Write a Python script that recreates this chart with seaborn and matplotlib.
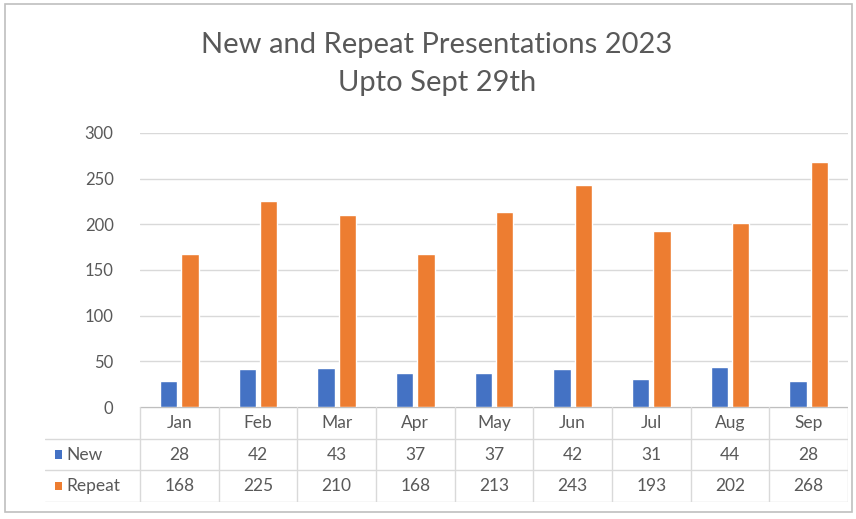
import numpy as np
import pandas as pd
import matplotlib
matplotlib.use("Agg")
import matplotlib.pyplot as plt
import seaborn as sns
from matplotlib.patches import Rectangle

# --- data ---
months = ["Jan", "Feb", "Mar", "Apr", "May", "Jun", "Jul", "Aug", "Sep"]
new_vals = [28, 42, 43, 37, 37, 42, 31, 44, 28]
repeat_vals = [168, 225, 210, 168, 213, 243, 193, 202, 268]
series_names = ["New", "Repeat"]
y_ticks = [0, 50, 100, 150, 200, 250, 300]
title_text = "New and Repeat Presentations 2023\nUpto Sept 29th"

BLUE = "#4472C4"
ORANGE = "#ED7D31"
TXT = "#595959"
GRID = "#D9D9D9"

df = pd.DataFrame({
    "month": months * 2,
    "series": ["New"] * len(months) + ["Repeat"] * len(months),
    "value": new_vals + repeat_vals,
})

sns.set_theme(style="white")
plt.rcParams["font.family"] = ["Lato", "DejaVu Sans"]

W, H = 856, 519
fig = plt.figure(figsize=(W / 100, H / 100), dpi=100)


def px_axes(x0, y0, x1, y1):
    # pixel box (top-left origin) -> figure fraction axes
    return fig.add_axes([x0 / W, 1 - y1 / H, (x1 - x0) / W, (y1 - y0) / H])


# --- bar chart ---
ax = px_axes(140, 133, 848, 407)
sns.barplot(data=df, x="month", y="value", hue="series", order=months,
            hue_order=series_names, palette=[BLUE, ORANGE],
            width=0.55, gap=0.2, ax=ax, legend=False, saturation=1)
ax.set_xlim(-0.5, len(months) - 0.5)
ax.set_ylim(0, 300)
ax.set_yticks(y_ticks)
ax.set_xticks([])
ax.set_xlabel("")
ax.set_ylabel("")
ax.tick_params(axis="y", length=0, pad=19, labelsize=12, labelcolor=TXT)
ax.grid(axis="y", color=GRID, lw=1)
ax.set_axisbelow(True)
for s in ax.spines.values():
    s.set_visible(False)

# --- data table below the chart ---
col_px = 708 / len(months)
hdr_units = 95 / col_px
axt = px_axes(45, 407, 848, 502)
axt.set_xlim(-0.5 - hdr_units, len(months) - 0.5)
axt.set_ylim(0, 3)
axt.axis("off")
lc = "#D9D9D9"
axt.plot([-0.5, len(months) - 0.5], [3, 3], color="#BFBFBF", lw=1)
for yy in [2, 1, 0]:
    axt.plot([-0.5 - hdr_units, len(months) - 0.5], [yy, yy], color=lc, lw=1)
for i in range(len(months) + 1):
    axt.plot([i - 0.5, i - 0.5], [0, 3], color=lc, lw=1)

fs = 12.5
for i, m in enumerate(months):
    axt.text(i, 2.5, m, ha="center", va="center", fontsize=fs, color=TXT)
    axt.text(i, 1.5, str(new_vals[i]), ha="center", va="center", fontsize=fs, color=TXT)
    axt.text(i, 0.5, str(repeat_vals[i]), ha="center", va="center", fontsize=fs, color=TXT)

# legend keys in the header column
key_w = 7 / col_px
for row, name, col in [(1.5, series_names[0], BLUE), (0.5, series_names[1], ORANGE)]:
    x0 = -0.5 - hdr_units + 10 / col_px
    axt.add_patch(Rectangle((x0, row - 0.13), key_w, 0.26, color=col, lw=0))
    axt.text(x0 + key_w + 0.06, row, name, ha="left", va="center", fontsize=fs, color=TXT)

# --- title and frame ---
fig.text(437 / W, 1 - 64 / H, title_text, ha="center", va="center",
         fontsize=21, color=TXT, linespacing=1.55)
fig.patches.append(Rectangle((5 / W, 1 - 512 / H), 847 / W, 508 / H,
                             transform=fig.transFigure, fill=False,
                             ec="#BFBFBF", lw=1.2))

fig.savefig("out.png", dpi=100, facecolor="white")
